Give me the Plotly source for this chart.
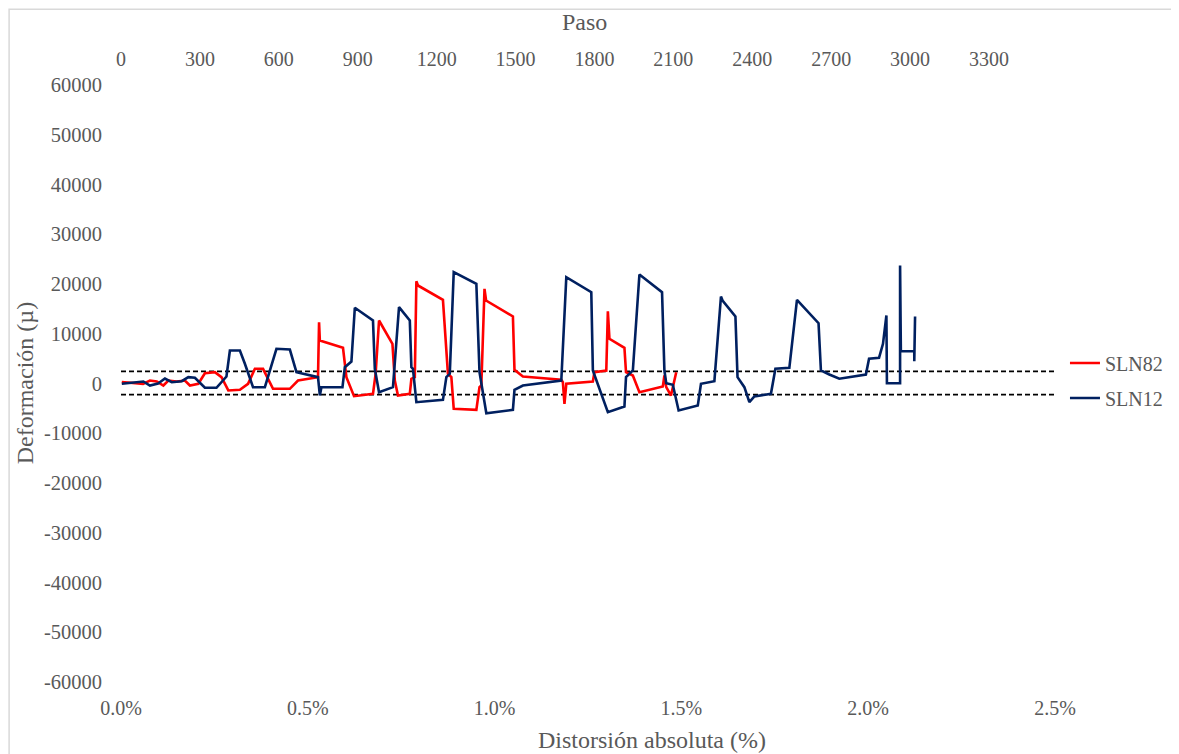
import plotly.graph_objects as go

# ---- data ----
sln82_step = [3, 46, 84, 110, 136, 161, 180, 212, 243, 262, 294, 319, 357, 382, 408, 452, 483, 509, 540, 578,
              642, 673, 749, 753, 756, 844, 857, 886, 958, 968, 981, 1032, 1041, 1053, 1098, 1104, 1117, 1123,
              1129, 1224, 1243, 1256, 1265, 1351, 1363, 1370, 1382, 1388, 1490, 1496, 1528, 1674, 1680, 1686,
              1693, 1794, 1800, 1845, 1851, 1857, 1914, 1920, 1946, 1971, 2060, 2066, 2073, 2091, 2111]
sln82_val = [300, 60, -60, 600, 400, -400, 600, 400, 600, -400, -60, 2070, 2270, 1270, -1400, -1270, -60, 2950,
             2950, -1070, -1070, 600, 1270, 12300, 8640, 7180, 1270, -2550, -2070, 1950, 12660, 7980, 600, -2410,
             -2070, 950, 1270, 20560, 19700, 16820, 1950, 1270, -5090, -5290, -740, -400, 19030, 16680, 13470,
             2750, 1410, 740, 260, -4080, -60, 400, 2270, 2610, 14530, 8990, 7180, 2270, 1610, -1750, -600, 1610,
             -740, -2410, 2270]

sln12_step = [3, 85, 110, 141, 167, 193, 231, 256, 281, 319, 363, 401, 414, 452, 471, 502, 547, 591, 642, 667,
              749, 756, 762, 842, 851, 876, 889, 958, 965, 981, 1034, 1057, 1098, 1104, 1110, 1123, 1224, 1237,
              1250, 1265, 1351, 1363, 1389, 1490, 1496, 1528, 1674, 1693, 1788, 1794, 1851, 1914, 1920, 1946,
              1971, 2057, 2066, 2073, 2098, 2120, 2193, 2205, 2256, 2281, 2287, 2336, 2344, 2370, 2389, 2408,
              2471, 2488, 2541, 2570, 2652, 2661, 2693, 2731, 2832, 2844, 2882, 2897, 2910, 2912, 2962, 2962,
              2965, 3016, 3016, 3019]
sln12_val = [-60, 400, -400, 0, 1000, 260, 460, 1270, 1150, -860, -860, 1410, 6630, 6630, 3960, -740, -740, 6980,
             6830, 2270, 1270, -2410, -740, -740, 3280, 4420, 15220, 12660, 2950, -1750, -740, 15340, 12660, 3280,
             2950, -3760, -3280, 1270, 1950, 22370, 20040, 2270, -5970, -5290, -1270, -400, 600, 21370, 18350,
             2610, -5770, -4620, 1270, 2610, 21910, 18350, 2610, 60, -260, -5430, -4420, -60, 460, 17490, 16680,
             13470, 1270, -740, -3760, -2610, -2070, 2950, 3160, 16820, 12120, 2610, 1810, 950, 1810, 4970, 5170,
             7980, 13670, 60, 60, 23720, 6490, 6490, 4480, 13470]

limit_x = [0.0, 0.025]
limit_upper = [2450, 2450]
limit_lower = [-2250, -2250]

x_pct_ticks = [0.0, 0.005, 0.010, 0.015, 0.020, 0.025]
paso_ticks = list(range(0, 3301, 300))
y_ticks = list(range(-60000, 60001, 10000))
y_tick_labels = [str(v) for v in y_ticks]

FONT = "Liberation Serif, Times New Roman, serif"
GRAY = "#595959"

fig = go.Figure()

fig.add_trace(go.Scatter(x=limit_x, y=limit_upper, mode="lines", xaxis="x", yaxis="y",
                         line=dict(color="black", width=1.8, dash="5px,3px"), showlegend=False, hoverinfo="skip"))
fig.add_trace(go.Scatter(x=limit_x, y=limit_lower, mode="lines", xaxis="x", yaxis="y",
                         line=dict(color="black", width=1.8, dash="5px,3px"), showlegend=False, hoverinfo="skip"))

fig.add_trace(go.Scatter(x=sln82_step, y=sln82_val, mode="lines", name="SLN82", xaxis="x2", yaxis="y",
                         legendgroup="a", line=dict(color="#FF0000", width=2.6)))
fig.add_trace(go.Scatter(x=sln12_step, y=sln12_val, mode="lines", name="SLN12", xaxis="x2", yaxis="y",
                         legendgroup="b", line=dict(color="#002060", width=2.6)))

fig.update_layout(
    width=1171, height=746,
    margin=dict(l=113, r=123, t=77, b=72),
    paper_bgcolor="white", plot_bgcolor="white",
    font=dict(family=FONT, color=GRAY, size=20),
    xaxis=dict(range=[0, 0.025], tickvals=x_pct_ticks, tickformat=".1%", showgrid=False, zeroline=False,
               showline=False, ticks="", ticklabelstandoff=12, tickfont=dict(size=20, color=GRAY)),
    xaxis2=dict(range=[0, 3551], tickvals=paso_ticks, overlaying="x", side="top", showgrid=False,
                zeroline=False, showline=False, ticks="", ticklabelstandoff=14,
                tickfont=dict(size=20, color=GRAY)),
    yaxis=dict(range=[-60000, 60000], tickvals=y_ticks, ticktext=y_tick_labels, showgrid=False,
               zeroline=False, showline=False, ticks="", ticklabelstandoff=18,
               tickfont=dict(size=20.5, color=GRAY)),
    legend=dict(x=1.0096, xanchor="left", y=0.505, yanchor="middle", bgcolor="rgba(0,0,0,0)",
                font=dict(size=20, color=GRAY), tracegroupgap=6, itemwidth=30),
    showlegend=True,
    shapes=[dict(type="rect", xref="paper", yref="paper", x0=-0.1198, x1=1.2, y0=-0.2, y1=1.127,
                 line=dict(color="#D9D9D9", width=1.5), fillcolor="rgba(0,0,0,0)", layer="below")],
    annotations=[
        dict(text="Distorsión absoluta (%)", xref="paper", yref="paper", x=0.569, y=-0.097,
             xanchor="center", yanchor="middle", showarrow=False, font=dict(size=24, color=GRAY)),
        dict(text="Paso", xref="paper", yref="paper", x=0.496, y=1.105, xanchor="center",
             yanchor="middle", showarrow=False, font=dict(size=24, color=GRAY)),
        dict(text="Deformación (µ)", xref="paper", yref="paper", x=-0.103, y=0.5, textangle=-90,
             xanchor="center", yanchor="middle", showarrow=False, font=dict(size=24, color=GRAY)),
    ],
)

fig.write_html("out.html")
